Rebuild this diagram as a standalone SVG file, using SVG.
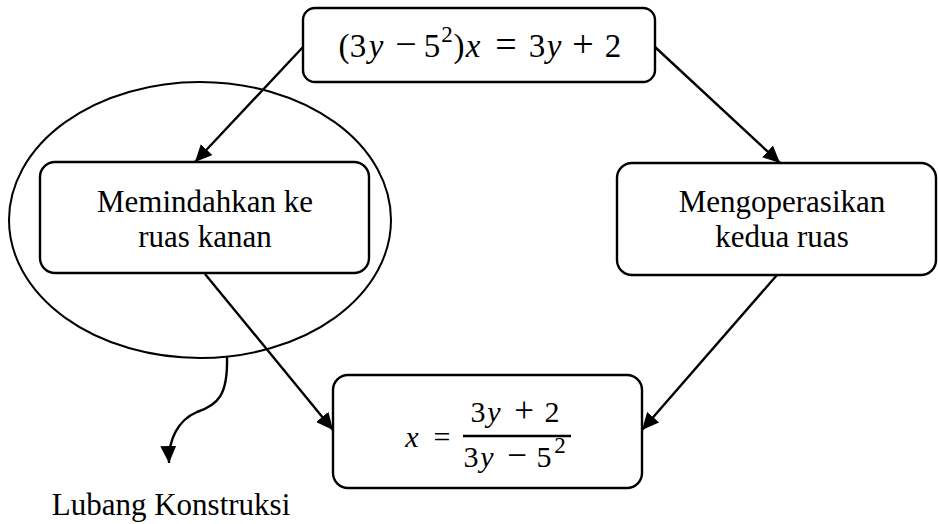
<svg xmlns="http://www.w3.org/2000/svg" width="938" height="524" viewBox="0 0 938 524">
<defs>
<style>
.box{fill:#fff;stroke:#000;stroke-width:2.4}
.lbl{font-family:"Liberation Serif","Times New Roman",serif;font-size:31px;fill:#000;text-anchor:middle}
.math{font-family:"Liberation Serif","Times New Roman",serif;font-size:33px;fill:#000;text-anchor:middle}
.math2{font-family:"Liberation Serif","Times New Roman",serif;font-size:30px;fill:#000;text-anchor:middle}
.it{font-style:italic}
.op{font-size:38px}
.sup{font-size:23px}
.conn{fill:none;stroke:#000;stroke-width:2.4}
</style>
<marker id="ah" markerUnits="userSpaceOnUse" markerWidth="20" markerHeight="16" refX="17" refY="8" orient="auto">
<path d="M0,0 L17,8 L0,16 z" fill="#000"/>
</marker>
</defs>
<rect width="938" height="524" fill="#fff"/>
<g id="connectors">
<line class="conn" x1="303" y1="47" x2="195" y2="162" marker-end="url(#ah)"/>
<line class="conn" x1="655" y1="47" x2="780" y2="163" marker-end="url(#ah)"/>
<line class="conn" x1="205" y1="274" x2="333" y2="430" marker-end="url(#ah)"/>
<line class="conn" x1="777" y1="275" x2="642" y2="430" marker-end="url(#ah)"/>
<path class="conn" d="M227,357 C228,395 218,405 197,412 C178,420 168,440 169,463" marker-end="url(#ah)"/>
</g>
<g id="group-lubang">
<ellipse cx="200" cy="220" rx="191" ry="138" fill="none" stroke="#000" stroke-width="2"/>
</g>
<g id="node-top">
<rect class="box" x="303" y="8" width="352" height="74" rx="12"/>
<text class="math" y="57"><tspan x="344">(</tspan><tspan x="358">3</tspan><tspan class="it" x="376">y</tspan><tspan class="op" x="406">−</tspan><tspan x="432">5</tspan><tspan class="sup" x="447" y="42">2</tspan><tspan x="459" y="57">)</tspan><tspan class="it" x="473">x</tspan><tspan class="op" x="506">=</tspan><tspan x="537">3</tspan><tspan class="it" x="554">y</tspan><tspan class="op" x="583">+</tspan><tspan x="613">2</tspan></text>
</g>
<g id="node-left">
<rect class="box" x="40" y="162" width="329" height="111" rx="15"/>
<text class="lbl" x="205" y="212">Memindahkan ke</text>
<text class="lbl" x="205" y="247">ruas kanan</text>
</g>
<g id="node-right">
<rect class="box" x="617" y="163" width="319" height="112" rx="15"/>
<text class="lbl" x="782" y="212">Mengoperasikan</text>
<text class="lbl" x="782" y="247">kedua ruas</text>
</g>
<g id="node-bottom">
<rect class="box" x="333" y="375" width="309" height="113" rx="15"/>
<text class="math2 it" x="412" y="447">x</text>
<text class="math2" x="442" y="447" font-size="35">=</text>
<line x1="463" y1="436" x2="571" y2="436" stroke="#000" stroke-width="2.6"/>
<text class="math2" y="422"><tspan x="478">3</tspan><tspan class="it" x="494">y</tspan><tspan x="524" font-size="35">+</tspan><tspan x="552">2</tspan></text>
<text class="math2" y="467"><tspan x="471">3</tspan><tspan class="it" x="487">y</tspan><tspan x="517" font-size="35">−</tspan><tspan x="544">5</tspan><tspan class="sup" x="560" y="453" font-size="21">2</tspan></text>
</g>
<text class="lbl" x="171" y="515">Lubang Konstruksi</text>
</svg>
